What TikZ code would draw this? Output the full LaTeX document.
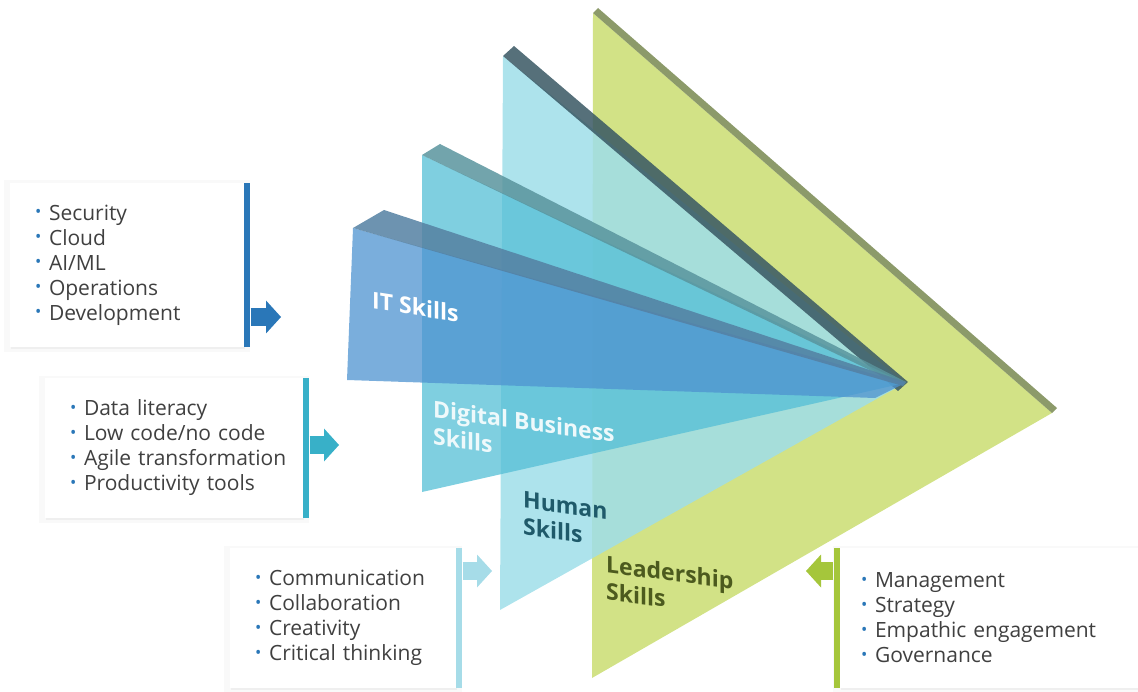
\documentclass[tikz,border=0pt]{standalone}
\usepackage{fontspec}
\setmainfont{Open Sans}
\usetikzlibrary{positioning}
\usetikzlibrary{shadows}
\usetikzlibrary{arrows.meta}

\definecolor{itblue}{HTML}{4E93D0}
\definecolor{itstrip}{HTML}{5480A2}
\definecolor{digblue}{HTML}{54BFD6}
\definecolor{digstrip}{HTML}{59949D}
\definecolor{humblue}{HTML}{9FDEE9}
\definecolor{humstrip}{HTML}{385763}
\definecolor{leadgreen}{HTML}{D2E286}
\definecolor{leadstrip}{HTML}{8C9A6A}
\definecolor{itbarcol}{HTML}{2A77B8}
\definecolor{digbarcol}{HTML}{38B0C8}
\definecolor{humbarcol}{HTML}{A6DCE8}
\definecolor{leadbarcol}{HTML}{A5C63B}
\definecolor{dotblue}{HTML}{2A77B8}
\definecolor{listgray}{HTML}{404040}
\definecolor{humtext}{HTML}{1F5A6A}
\definecolor{leadtext}{HTML}{4C5A1E}

\newcommand{\dotitem}[1]{\mbox{\makebox[14pt][l]{\textcolor{dotblue}{\raisebox{.22ex}{\scalebox{.8}{•}}}}#1}}

\begin{document}
\begin{tikzpicture}[x=1pt,y=-1pt,
    panel/.style={
% The fill:
fill opacity=0.75, draw=none,
},
    strip/.style={
% The fill:
fill opacity=0.85, draw=none,
},
    listbox/.style={
% The shape:
rectangle, fill=white,
% The size:
minimum height=140pt, inner xsep=25pt, inner ysep=0pt,
% The text:
align=left, text=listgray, font=\fontsize{21}{25}\selectfont,
% The shadow:
drop shadow={opacity=0.05, shadow xshift=0pt, shadow yshift=-1pt, shadow scale=1.05},
drop shadow={opacity=0.08, shadow xshift=1pt, shadow yshift=-2pt},
},
    bar/.style={
% The shape:
rectangle, inner sep=0pt,
% The size:
minimum width=6pt, minimum height=140pt,
},
    blockarrow/.style={
line width=18pt, -{Triangle[width=33pt,length=15pt,line width=0pt]},
},
    skill/.style={
font=\fontsize{23}{27}\selectfont\bfseries,
align=left, anchor=north west, inner sep=0pt,
},
]
  \useasboundingbox (0,0) rectangle (1138,692);

  % the fan, back to front
  \fill[leadgreen] (593,13) -- (1052,413) -- (592,678) -- cycle;
  \fill[leadstrip] (593,13) -- (598,8) -- (1057,408) -- (1052,413) -- cycle;
  \fill[panel, humblue, fill opacity=0.85] (503,56) -- (905,383) -- (500,610) -- cycle;
  \fill[strip, humstrip] (503,56) -- (514,46) -- (908,382) -- (898,391) -- cycle;
  \fill[panel, digblue] (422,155) -- (905,383) -- (422,492) -- cycle;
  \fill[strip, digstrip] (422,155) -- (440,144) -- (906,382) -- (903,386) -- cycle;
  \fill[panel, itblue] (353,228) -- (905,383) -- (875,398) -- (347,380) -- cycle;
  \fill[strip, itstrip] (353,228) -- (384,210) -- (906,382) -- (903,386) -- cycle;

  \node[skill, text=white, yslant=-0.155] (itlbl) at (372,291) {IT Skills};
  \node[skill, text=white!90!digblue, yslant=-0.135] (diglbl) at (433,400) {Digital Business\\Skills};
  \node[skill, text=humtext, yslant=-0.145] (humlbl) at (523,491) {Human\\Skills};
  \node[skill, text=leadtext, yslant=-0.13] (leadlbl) at (606,555) {Leadership\\Skills};

  % the lists
  \node[listbox, text width=184pt, minimum height=164pt] (itbox) at (127,265)
    {\dotitem{Security}\\\dotitem{Cloud}\\\dotitem{AI/ML}\\\dotitem{Operations}\\\dotitem{Development}};
  \node[listbox, text width=208pt] (digbox) at (174,448)
    {\dotitem{Data literacy}\\\dotitem{Low code/no code}\\\dotitem{Agile transformation}\\\dotitem{Productivity tools}};
  \node[listbox, text width=176pt] (humbox) at (343,618)
    {\dotitem{Communication}\\\dotitem{Collaboration}\\\dotitem{Creativity}\\\dotitem{Critical thinking}};
  \node[listbox, inner xsep=21pt, text width=256pt] (leadbox) at (989,618)
    {\dotitem{Management}\\\dotitem{Strategy}\\\dotitem{Empathic engagement}\\\dotitem{Governance}};

  \node[bar, fill=itbarcol, minimum height=164pt, right=0pt of itbox] (itbar) {};
  \node[bar, fill=digbarcol, right=0pt of digbox] (digbar) {};
  \node[bar, fill=humbarcol, right=0pt of humbox] (humbar) {};
  \node[bar, fill=leadbarcol, left=0pt of leadbox] (leadbar) {};

  \coordinate (itTip) at (281,317);
  \coordinate (digTip) at (339,445);
  \coordinate (humTip) at (492,571);
  \coordinate (leadTip) at (806,571);
  \draw[blockarrow, itbarcol] (itbar.east |- itTip) -> (itTip);
  \draw[blockarrow, digbarcol] (digbar.east |- digTip) -> (digTip);
  \draw[blockarrow, humbarcol] (humbar.east |- humTip) -> (humTip);
  \draw[blockarrow, leadbarcol] (leadbar.west |- leadTip) -> (leadTip);

\end{tikzpicture}
\end{document}
